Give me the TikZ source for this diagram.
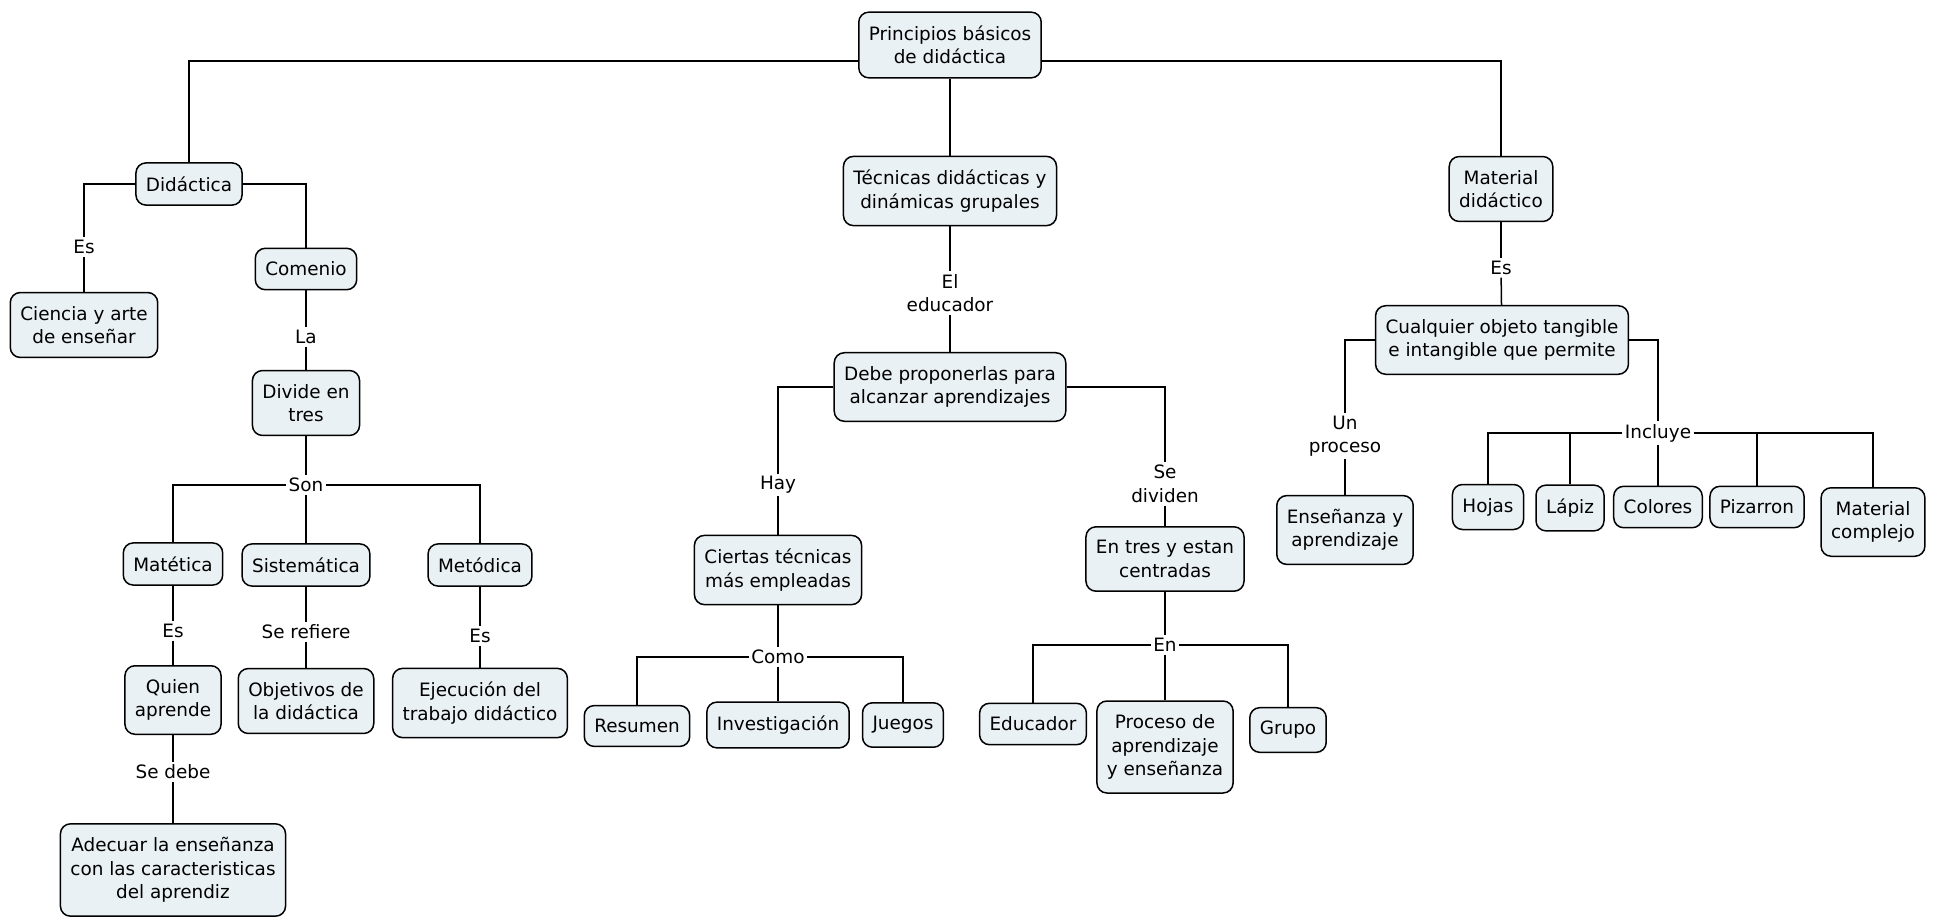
\documentclass[tikz,border=0pt]{standalone}
\usepackage{fontspec}
\setmainfont{DejaVu Sans}
\definecolor{boxfill}{RGB}{234,241,245}
\begin{document}
\begin{tikzpicture}[
    concept/.style={draw, line width=0.75pt, rounded corners=5pt, fill=boxfill,
      align=center, inner xsep=5pt, inner ysep=6.8pt,
      font=\fontsize{9.2}{11.75}\selectfont},
    link/.style={align=center, inner sep=1.2pt,
      font=\fontsize{9.2}{11.75}\selectfont},
    line/.style={draw, line width=0.75pt},
    hv/.style={line, to path={-| (\tikztotarget)}}]
    \def\x{0.5pt}
    \def\y{-0.5pt}
    \useasboundingbox (0,0) rectangle (1940*\x, 921*\y);
    \node [concept] (A0_0) at (950*\x, 45*\y) {Principios básicos\\de didáctica};
    \node [concept] (A1_0) at (189*\x, 184*\y) {Didáctica};
    \node [concept] (A1_1) at (950*\x, 191*\y) {Técnicas didácticas y\\dinámicas grupales};
    \node [concept] (A1_2) at (1501*\x, 189*\y) {Material\\didáctico};
    \node [concept] (A2_0) at (84*\x, 325*\y) {Ciencia y arte\\de enseñar};
    \node [concept] (A2_1) at (306*\x, 269*\y) {Comenio};
    \node [concept] (A2_2) at (950*\x, 387*\y) {Debe proponerlas para\\alcanzar aprendizajes};
    \node [concept] (A2_3) at (1502*\x, 340*\y) {Cualquier objeto tangible\\e intangible que permite};
    \node [concept] (A3_0) at (306*\x, 403*\y) {Divide en\\tres};
    \node [concept] (A3_1) at (778*\x, 570*\y) {Ciertas técnicas\\más empleadas};
    \node [concept] (A3_2) at (1165*\x, 559*\y) {En tres y estan\\centradas};
    \node [concept] (A3_3) at (1345*\x, 530*\y) {Enseñanza y\\aprendizaje};
    \node [concept] (A3_4) at (1488*\x, 507*\y) {Hojas};
    \node [concept] (A3_5) at (1570*\x, 508*\y) {Lápiz};
    \node [concept] (A3_6) at (1658*\x, 507*\y) {Colores};
    \node [concept] (A3_7) at (1757*\x, 507*\y) {Pizarron};
    \node [concept] (A3_8) at (1873*\x, 522*\y) {Material\\complejo};
    \node [concept] (A4_0) at (173*\x, 564*\y) {Matética};
    \node [concept] (A4_1) at (306*\x, 565*\y) {Sistemática};
    \node [concept] (A4_2) at (480*\x, 565*\y) {Metódica};
    \node [concept] (A4_3) at (637*\x, 726*\y) {Resumen};
    \node [concept] (A4_4) at (778*\x, 725*\y) {Investigación};
    \node [concept] (A4_5) at (903*\x, 725*\y) {Juegos};
    \node [concept] (A4_6) at (1033*\x, 724*\y) {Educador};
    \node [concept] (A4_7) at (1165*\x, 747*\y) {Proceso de\\aprendizaje\\y enseñanza};
    \node [concept] (A4_8) at (1288*\x, 730*\y) {Grupo};
    \node [concept] (A5_0) at (173*\x, 700*\y) {Quien\\aprende};
    \node [concept] (A5_1) at (306*\x, 701*\y) {Objetivos de\\la didáctica};
    \node [concept] (A5_2) at (480*\x, 703*\y) {Ejecución del\\trabajo didáctico};
    \node [concept] (A6_0) at (173*\x, 870*\y) {Adecuar la enseñanza\\con las caracteristicas\\del aprendiz};
    \node [link] (L1_0) at (84*\x, 247*\y) {Es};
    \node [link] (L1_1) at (306*\x, 337*\y) {La};
    \node [link] (L2_0) at (306*\x, 485*\y) {Son};
    \node [link] (L3_0) at (173*\x, 631*\y) {Es};
    \node [link] (L3_1) at (306*\x, 632*\y) {Se refiere};
    \node [link] (L3_2) at (480*\x, 636*\y) {Es};
    \node [link] (L4_0) at (173*\x, 772*\y) {Se debe};
    \node [link] (L1_2) at (950*\x, 293*\y) {El\\educador};
    \node [link] (L2_1) at (778*\x, 485*\y) {Hay};
    \node [link] (L3_3) at (778*\x, 657*\y) {Como};
    \node [link] (L2_2) at (1165*\x, 484*\y) {Se\\dividen};
    \node [link] (L3_4) at (1165*\x, 645*\y) {En};
    \node [link] (L1_3) at (1501*\x, 268*\y) {Es};
    \node [link] (L2_3) at (1345*\x, 436*\y) {Un\\proceso};
    \node [link] (L2_4) at (1658*\x, 433*\y) {Incluye};
    \path ([yshift=-8pt]A0_0.west) edge [hv] (A1_0);
    \path ([yshift=-8pt]A0_0.east) edge [hv] (A1_2);
    \path (A0_0) edge [line] (A1_1);
    \path (A1_0.west) edge [hv] (L1_0);
    \path (L1_0) edge [line] (A2_0);
    \path (A1_0.east) edge [hv] (A2_1);
    \path (A2_1) edge [line] (L1_1) (L1_1) edge [line] (A3_0);
    \path (A3_0) edge [line] (L2_0);
    \path (L2_0) edge [hv] (A4_0) (L2_0) edge [line] (A4_1) (L2_0) edge [hv] (A4_2);
    \path (A4_0) edge [line] (L3_0) (L3_0) edge [line] (A5_0);
    \path (A5_0) edge [line] (L4_0) (L4_0) edge [line] (A6_0);
    \path (A4_1) edge [line] (L3_1) (L3_1) edge [line] (A5_1);
    \path (A4_2) edge [line] (L3_2) (L3_2) edge [line] (A5_2);
    \path (A1_1) edge [line] (L1_2) (L1_2) edge [line] (A2_2);
    \path (A2_2.west) edge [hv] (L2_1);
    \path (L2_1) edge [line] (A3_1) (A3_1) edge [line] (L3_3);
    \path (L3_3) edge [hv] (A4_3) (L3_3) edge [line] (A4_4) (L3_3) edge [hv] (A4_5);
    \path (A2_2.east) edge [hv] (L2_2);
    \path (L2_2) edge [line] (A3_2) (A3_2) edge [line] (L3_4);
    \path (L3_4) edge [hv] (A4_6) (L3_4) edge [line] (A4_7) (L3_4) edge [hv] (A4_8);
    \path (A1_2) edge [line] (L1_3) (L1_3) edge [line] (A2_3);
    \path (A2_3.west) edge [hv] (L2_3);
    \path (L2_3) edge [line] (A3_3);
    \path (A2_3.east) edge [hv] (L2_4);
    \path (L2_4) edge [hv] (A3_4) (L2_4) edge [hv] (A3_5) (L2_4) edge [line] (A3_6)
      (L2_4) edge [hv] (A3_7) (L2_4) edge [hv] (A3_8);
  \end{tikzpicture}
\end{document}
